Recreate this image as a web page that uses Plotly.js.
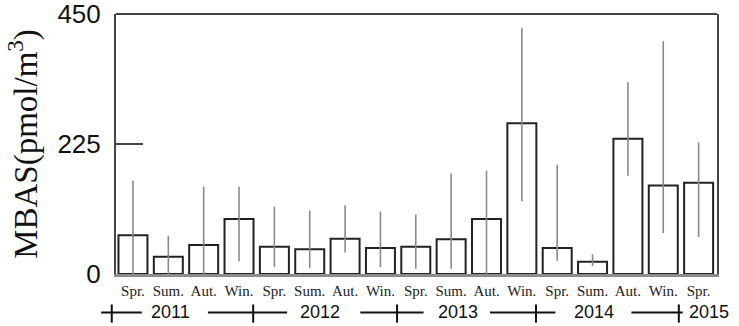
<!DOCTYPE html>
<html>
<head>
<meta charset="utf-8">
<script src="https://cdn.plot.ly/plotly-3.0.1.min.js"></script>
<style>html,body{margin:0;padding:0;background:#fff;}#chart{width:739px;height:326px;}</style>
</head>
<body>
<div id="chart"></div>
<script>
// Season labels (x axis) and values
const seasons = ["Spr.","Sum.","Aut.","Win.","Spr.","Sum.","Aut.","Win.","Spr.","Sum.","Aut.","Win.","Spr.","Sum.","Aut.","Win.","Spr."];
const meanMBAS = [67, 30, 50, 95, 47, 43, 61, 45, 47, 60, 95, 261, 45, 21, 234, 153, 158];
const upperMBAS = [162, 66, 151, 151, 117, 110, 119, 108, 103, 174, 179, 426, 189, 34, 332, 403, 228];
const lowerMBAS = [0, 0, 0, 22, 12, 10, 37, 12, 9, 9, 0, 126, 23, 14, 170, 71, 64];
// Year labels and their positions along the category axis
const years = ["2011","2012","2013","2014","2015"];
const yearPos = [1.05, 5.3, 9.2, 13.05, 16.3];
const crossPos = [-0.6, 3.4, 7.47, 11.4, 15.44];
const segStart = [-0.9, 2.12, 6.43, 10.1, 14.1];
const segEnd = [0.25, 4.36, 8.22, 11.95, 15.55];
const yTicks = [0, 225, 450];

const xRange = [-0.48, 16.52];
const xIdx = seasons.map((_, i) => i);
const errPlus = upperMBAS.map((u, i) => u - meanMBAS[i]);
const errMinus = lowerMBAS.map((l, i) => meanMBAS[i] - l);
const toPaper = c => (c - xRange[0]) / (xRange[1] - xRange[0]);

const trace = {
  type: 'bar',
  x: xIdx,
  y: meanMBAS,
  marker: {color: '#ffffff', line: {color: '#222222', width: 2}},
  error_y: {type: 'data', symmetric: false, array: errPlus, arrayminus: errMinus,
            color: '#8a8a8a', thickness: 1.6, width: 0},
  hoverinfo: 'none'
};

const shapes = [];
const annotations = [];
// top frame line
shapes.push({type: 'line', xref: 'paper', yref: 'paper', x0: 0, x1: 1, y0: 1, y1: 1,
             line: {color: '#444', width: 2}});
const yLine = -0.148;
for (let k = 0; k < years.length; k++) {
  shapes.push({type: 'line', xref: 'paper', yref: 'paper', x0: toPaper(segStart[k]), x1: toPaper(segEnd[k]), y0: yLine, y1: yLine,
               line: {color: '#111', width: 2}});
  shapes.push({type: 'line', xref: 'paper', yref: 'paper', x0: toPaper(crossPos[k]), x1: toPaper(crossPos[k]), y0: -0.117, y1: -0.187,
               line: {color: '#111', width: 2}});
  annotations.push({xref: 'paper', yref: 'paper', x: toPaper(yearPos[k]), y: yLine, text: years[k], showarrow: false,
                    xanchor: 'center', yanchor: 'middle',
                    font: {family: 'Liberation Sans, Arial, sans-serif', size: 18, color: '#111'}});
}

const layout = {
  width: 739, height: 326,
  margin: {l: 116, r: 22, t: 14, b: 52},
  paper_bgcolor: '#fff', plot_bgcolor: '#fff',
  showlegend: false,
  bargap: 0.18,
  xaxis: {
    range: xRange,
    tickmode: 'array', tickvals: xIdx, ticktext: seasons,
    ticks: '', showgrid: false, zeroline: false,
    showline: true, linecolor: '#8c8c8c', linewidth: 3,
    tickfont: {family: 'Liberation Serif, Times New Roman, serif', size: 15, color: '#222'},
    ticklabelstandoff: 1
  },
  yaxis: {
    range: [0, 450],
    tickmode: 'array', tickvals: yTicks, ticktext: yTicks.map(String),
    ticks: 'inside', ticklen: 27, tickwidth: 2, tickcolor: '#444',
    showgrid: false, zeroline: false,
    showline: true, linecolor: '#444', linewidth: 2, mirror: true,
    tickfont: {family: 'Liberation Sans, Arial, sans-serif', size: 26, color: '#111'},
    ticklabelstandoff: 8,
    ticklabeloverflow: 'allow',
    title: {text: 'MBAS(pmol/m<sup>3</sup>)', standoff: 10,
            font: {family: 'Liberation Serif, Times New Roman, serif', size: 33, color: '#111'}}
  },
  shapes: shapes,
  annotations: annotations
};

Plotly.newPlot('chart', [trace], layout, {displayModeBar: false, staticPlot: true});
</script>
</body>
</html>
